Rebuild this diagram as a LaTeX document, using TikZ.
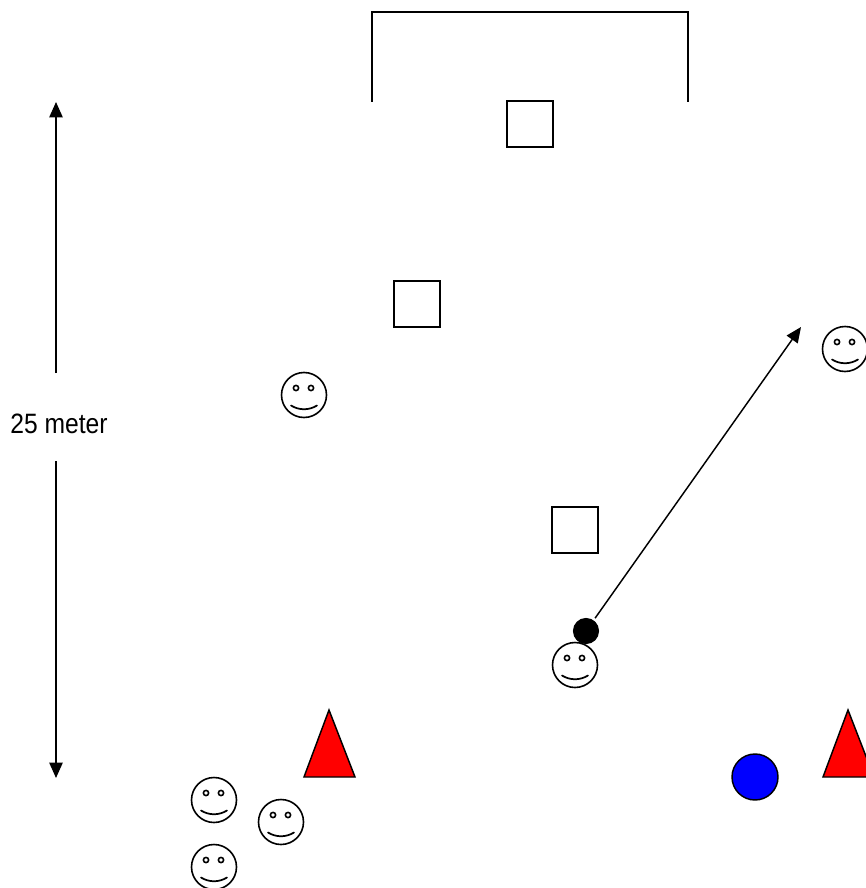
\documentclass[tikz,border=0pt]{standalone}
\usepackage{fontspec}
\setmainfont{Liberation Sans}
\usetikzlibrary{arrows.meta}
\tikzset{
  ln/.style={draw=black,line width=1.1pt},
  arw/.style={ln,-{Triangle[length=11.5pt,width=10pt]}},
  sq/.style={ln,rectangle,minimum size=34.5pt,inner sep=0pt,fill=white},
  disc/.style={ln,circle,inner sep=0pt,minimum size=#1},
  cone/.style={ln,fill=red,line join=miter},
  face/.pic={
    \draw[ln,fill=white,line width=1.2pt] (0,0) circle (22.5);
    \draw[ln,line width=1.2pt] (-8,-7) circle (2.6);
    \draw[ln,line width=1.2pt] (7,-7) circle (2.6);
    \draw[ln,line width=1.3pt,line cap=round] (-13,10.5) .. controls (-5,15.5) and (5,15.5) .. (13,10.5);
  }
}
\begin{document}
\begin{tikzpicture}[x=0.75pt,y=-0.75pt]
\useasboundingbox (0,0) rectangle (866,888);
\clip (0,0) rectangle (866,888);
\fill[white] (0,0) rectangle (866,888);
% goal
\coordinate (g1) at (372,102);
\coordinate (g2) at (372,12);
\coordinate (g3) at (688,12);
\coordinate (g4) at (688,102);
\draw[ln,line width=0.95pt] (g1) -- (g2) -- (g3) -- (g4);
% defenders
\node[sq] (s1) at (530,124) {};
\node[sq] (s2) at (417,304) {};
\node[sq] (s3) at (575,530) {};
% distance
\node[inner sep=0pt] (lbl) at (59,424) {\scalebox{0.88}[1]{\fontsize{21pt}{25pt}\selectfont 25 meter}};
\coordinate (t1) at (56,373);
\coordinate (t2) at (56,102);
\coordinate (b1) at (56,461);
\coordinate (b2) at (56,778);
\draw[arw] (t1) -- (t2);
\draw[arw] (b1) -- (b2);
% players
\pic at (304,395) {face};
\pic at (845,349) {face};
\pic at (575,665) {face};
\pic at (214,800) {face};
\pic at (281,822) {face};
\pic at (214,867) {face};
% ball and pass
\node[disc=18.5pt,fill=black] (ball) at (586,631) {};
\coordinate (aim) at (801,327);
\draw[arw,shorten <=2pt] (ball) -- (aim);
% cones
\draw[cone] (329,710) -- (355,777) -- (304,777) -- cycle;
\draw[cone] (848,710) -- (874,777) -- (823,777) -- cycle;
% blue marker
\node[disc=34.5pt,fill=blue] (bm) at (755,777) {};
\end{tikzpicture}
\end{document}
